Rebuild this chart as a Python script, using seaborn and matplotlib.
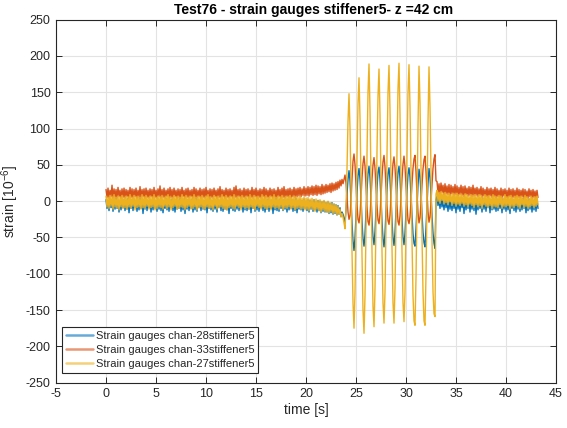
import numpy as np
import pandas as pd
import matplotlib
matplotlib.use('Agg')
import matplotlib.pyplot as plt
import seaborn as sns

# ---- data (strain in 1e-6) ----
names = ['Strain gauges chan-28stiffener5',
         'Strain gauges chan-33stiffener5',
         'Strain gauges chan-27stiffener5']
colors = ['#0072BD', '#D95319', '#EDB120']

# quiet part before excitation, 0.0 .. 23.6 s every 0.1 s
pre_start, pre_step = 0.0, 0.1
blue_pre = [2, -10, 1, -13, 3, -9, 0, -14, 2, -11, 4, -10, 1, -15, 0, -12, 3, -9, 2, -13,
            1, -11, 4, -16, 0, -10, 2, -13, 3, -9, 1, -14, 0, -12, 4, -10, 2, -17, 1, -11,
            3, -13, 0, -9, 2, -15, 1, -12, 4, -10, 0, -14, 3, -11, 1, -13, 2, -16, 0, -10,
            4, -12, 1, -14, 2, -9, 3, -13, 0, -15, 2, -11, 1, -10, 4, -14, 0, -12, 3, -17,
            1, -11, 2, -13, 0, -10, 3, -15, 1, -12, 4, -14, 2, -9, 0, -13, 3, -11, 1, -12,
            2, -16, 0, -10, 4, -12, 1, -14, 3, -11, 0, -15, 2, -9, 1, -13, 4, -14, 0, -11,
            3, -12, 1, -17, 2, -10, 0, -13, 4, -14, 1, -11, 3, -13, 0, -9, 2, -15, 1, -12,
            4, -13, 0, -11, 3, -16, 1, -10, 2, -14, 0, -12, 4, -14, 1, -9, 3, -13, 2, -15,
            0, -11, 3, -14, 1, -10, 2, -17, 0, -12, 4, -13, 1, -14, 3, -10, 0, -13, 2, -11,
            1, -15, 3, -12, 0, -10, 2, -14, 1, -13, 4, -16, 0, -11, 2, -12, 1, -14, 3, -10,
            0, -13, 2, -15, 1, -11, 0, -14, 2, -12, -1, -15, 1, -13, 0, -16, -1, -14, 0, -15,
            -2, -15, -1, -17, -3, -16, -2, -18, -4, -17, -5, -19, -6, -18, -9, -21, -15]
orange_pre = [16, 5, 18, 4, 15, 6, 22, 3, 17, 5, 16, 4, 19, 6, 15, 3, 17, 5, 18, 4,
              16, 6, 15, 3, 19, 5, 17, 4, 16, 6, 18, 3, 15, 5, 20, 4, 16, 6, 17, 3,
              18, 5, 15, 4, 17, 6, 16, 3, 19, 5, 15, 4, 17, 6, 21, 3, 16, 5, 18, 4,
              15, 6, 17, 3, 19, 5, 16, 4, 18, 6, 15, 3, 17, 5, 16, 4, 19, 6, 15, 3,
              17, 5, 18, 4, 15, 6, 16, 3, 19, 5, 17, 4, 15, 6, 18, 3, 16, 5, 17, 4,
              19, 6, 15, 3, 17, 5, 16, 4, 18, 6, 15, 3, 17, 5, 20, 4, 16, 6, 15, 3,
              18, 5, 16, 4, 17, 6, 15, 3, 19, 5, 21, 4, 16, 6, 17, 3, 15, 5, 18, 4,
              16, 6, 17, 3, 15, 5, 19, 4, 16, 6, 18, 3, 15, 5, 17, 4, 16, 6, 19, 3,
              17, 5, 15, 4, 18, 6, 16, 3, 17, 5, 15, 4, 19, 6, 16, 3, 18, 5, 20, 4,
              16, 6, 17, 5, 18, 4, 16, 6, 19, 5, 17, 6, 18, 7, 19, 6, 17, 8, 20, 7,
              18, 8, 20, 7, 19, 9, 21, 8, 20, 9, 22, 8, 21, 10, 20, 9, 23, 10, 21, 11,
              23, 12, 22, 13, 24, 12, 25, 14, 24, 15, 26, 16, 27, 18, 29, 21, 30]
yellow_pre = [7, -8, 5, -10, 8, -7, 6, -11, 9, -8, 5, -9, 7, -12, 6, -8, 8, -10, 5, -9,
              7, -11, 6, -8, 9, -10, 5, -7, 8, -12, 6, -9, 7, -8, 5, -11, 9, -9, 6, -10,
              8, -7, 5, -11, 7, -9, 6, -8, 9, -12, 5, -10, 7, -8, 6, -9, 8, -11, 5, -7,
              7, -10, 9, -8, 6, -12, 5, -9, 8, -7, 6, -11, 7, -10, 5, -8, 9, -9, 6, -12,
              8, -9, 5, -7, 7, -11, 6, -10, 9, -8, 5, -12, 7, -9, 6, -8, 8, -10, 5, -11,
              7, -8, 9, -10, 6, -9, 5, -12, 8, -7, 6, -11, 7, -9, 5, -8, 9, -10, 6, -11,
              8, -12, 5, -9, 7, -8, 6, -10, 9, -11, 5, -7, 7, -9, 6, -12, 8, -8, 5, -10,
              7, -9, 6, -11, 9, -8, 5, -10, 8, -12, 6, -7, 7, -9, 5, -11, 9, -8, 6, -10,
              8, -11, 5, -9, 7, -12, 6, -8, 9, -10, 5, -9, 7, -11, 6, -8, 8, -12, 5, -9,
              7, -10, 6, -8, 8, -11, 5, -9, 7, -12, 6, -10, 5, -9, 7, -11, 4, -10, 6, -12,
              4, -11, 5, -13, 3, -10, 4, -12, 2, -14, 3, -11, 1, -13, 2, -15, 0, -12, 1, -14,
              -1, -15, 0, -16, -2, -14, -3, -17, -4, -16, -5, -19, -7, -18, -11, -22, -17]

# oscillating part, 23.7 .. 33.0 s every 0.1 s
osc_start, osc_step = 23.7, 0.1
blue_osc = [-18, -24, -28, -12, 10, 30, 42, 28, 2, -30, -55, -68, -50, -20, 12, 35, 45, 30, 5, -28,
            -52, -62, -45, -15, 15, 38, 48, 32, 6, -25, -50, -60, -42, -12, 18, 40, 47, 30, 3, -28,
            -52, -63, -44, -14, 16, 38, 46, 29, 4, -27, -51, -61, -43, -13, 17, 40, 48, 31, 5, -26,
            -50, -60, -44, -15, 14, 37, 46, 33, 8, -20, -45, -58, -62, -38, -8, 22, 44, 34, 10, -18,
            -43, -57, -63, -37, -6, 24, 45, 33, 9, -20, -44, -58, -65, 2]
orange_osc = [24, 30, 36, 25, 5, -15, -25, -20, 0, 30, 55, 65, 50, 22, -5, -25, -30, -18, 5, 32,
              52, 62, 48, 20, -8, -28, -33, -20, 4, 30, 50, 60, 45, 18, -6, -26, -31, -18, 6, 33,
              54, 63, 47, 19, -7, -27, -32, -19, 5, 31, 52, 61, 46, 20, -6, -28, -33, -20, 4, 30,
              51, 62, 47, 21, -5, -26, -31, -22, 0, 24, 45, 58, 63, 40, 10, -15, -30, -23, -2, 22,
              44, 57, 62, 40, 12, -14, -29, -22, -1, 23, 45, 58, 64, 28]
yellow_osc = [-22, -30, -38, -10, 45, 110, 148, 100, 20, -70, -140, -175, -125, -35, 60, 135, 170, 115, 25, -75,
              -150, -182, -130, -40, 65, 150, 189, 125, 30, -70, -145, -173, -120, -30, 70, 145, 182, 120, 25, -70,
              -140, -168, -125, -35, 65, 150, 187, 125, 30, -65, -140, -168, -120, -30, 70, 155, 190, 120, 25, -70,
              -140, -166, -125, -35, 65, 150, 188, 130, 40, -55, -130, -165, -171, -105, -5, 105, 186, 135, 45, -50,
              -125, -165, -171, -100, 0, 110, 185, 130, 40, -55, -125, -155, -159, 10]

# quiet part after excitation, 33.1 .. 43.2 s every 0.1 s
post_start, post_step = 33.1, 0.1
blue_post = [7, -6, 4, -10, 6, -8, 3, -12, 5, -9, 2, -14, 4, -11, 1, -13, 3, -10, 2, -16,
             4, -11, 1, -14, 3, -9, 2, -17, 4, -12, 1, -10, 3, -15, 2, -11, 1, -13, 4, -18,
             2, -12, 3, -10, 1, -15, 4, -11, 2, -14, 1, -9, 3, -16, 2, -12, 4, -11, 1, -14,
             3, -13, 2, -10, 1, -16, 3, -11, 4, -14, 2, -12, 1, -17, 3, -10, 2, -13, 1, -15,
             3, -11, 2, -14, 1, -12, 4, -10, 2, -16, 1, -13, 3, -11, 2, -15, 1, -12, 3, -14,
             2, -10]
orange_post = [27, 11, 24, 9, 25, 12, 22, 8, 24, 10, 21, 9, 23, 7, 22, 10, 20, 8, 23, 9,
               21, 7, 19, 9, 22, 8, 20, 6, 21, 9, 18, 7, 20, 8, 19, 6, 22, 7, 18, 8,
               19, 6, 17, 8, 20, 5, 18, 7, 16, 6, 19, 4, 17, 7, 18, 5, 16, 6, 19, 4,
               17, 6, 15, 5, 18, 4, 16, 7, 17, 5, 15, 3, 18, 6, 16, 4, 17, 5, 15, 3,
               18, 5, 16, 4, 15, 6, 17, 3, 16, 5, 14, 4, 17, 6, 15, 3, 16, 5, 14, 4,
               15, 5]
yellow_post = [15, 0, 12, -3, 13, 1, 11, -4, 12, -2, 10, -5, 11, -1, 9, -6, 11, -3, 10, -7,
               11, -4, 9, -6, 10, -3, 8, -7, 10, -5, 9, -8, 7, -4, 9, -6, 8, -9, 9, -5,
               7, -8, 9, -6, 8, -10, 6, -5, 9, -7, 7, -9, 8, -6, 6, -10, 9, -7, 7, -8,
               6, -9, 8, -5, 7, -10, 5, -7, 9, -8, 6, -6, 7, -11, 8, -7, 5, -9, 7, -6,
               8, -8, 6, -10, 7, -5, 5, -9, 8, -7, 6, -10, 4, -8, 7, -6, 5, -9, 6, -7,
               7, -5]


def series(pre, osc, post):
    t = np.concatenate([pre_start + pre_step * np.arange(len(pre)),
                        osc_start + osc_step * np.arange(len(osc)),
                        post_start + post_step * np.arange(len(post))])
    return t, np.array(pre + osc + post, dtype=float)


frames = []
for name, (pre, osc, post) in zip(names, [(blue_pre, blue_osc, blue_post),
                                          (orange_pre, orange_osc, orange_post),
                                          (yellow_pre, yellow_osc, yellow_post)]):
    t, v = series(pre, osc, post)
    frames.append(pd.DataFrame({'time': t, 'strain': v, 'gauge': name}))
df = pd.concat(frames, ignore_index=True)

sns.set_theme(style='whitegrid')
plt.rcParams['font.family'] = ['Liberation Sans', 'DejaVu Sans']
plt.rcParams['axes.unicode_minus'] = False
plt.rcParams['mathtext.fontset'] = 'custom'
plt.rcParams['mathtext.rm'] = 'Liberation Sans'
plt.rcParams['mathtext.it'] = 'Liberation Sans'
plt.rcParams['path.simplify'] = False   # keep every wiggle of the noisy signal

fig = plt.figure(figsize=(5.67, 4.28), dpi=100)
ax = fig.add_axes([0.0988, 0.106, 0.8818, 0.848])

sns.lineplot(data=df, x='time', y='strain', hue='gauge', hue_order=names,
             palette=colors, estimator=None, sort=False, linewidth=1.0, ax=ax)

ax.set_xlim(-5, 45)
ax.set_ylim(-250, 250)
ax.set_xticks(np.arange(-5, 46, 5))
ax.set_yticks(np.arange(-250, 251, 50))
ax.grid(True, color='#e3e3e3', linewidth=0.8)
ax.set_facecolor('white')
for s in ax.spines.values():
    s.set_visible(True)
    s.set_color('#262626')
    s.set_linewidth(0.8)
ax.tick_params(direction='in', length=4, width=0.7, colors='#262626',
               labelsize=9, top=True, right=True, bottom=True, left=True,
               labeltop=False, labelright=False, pad=4)

ax.set_xlabel('time [s]', fontsize=10, color='#262626', labelpad=2)
ax.set_ylabel('strain [10$^{-6}$]', fontsize=10, color='#262626', labelpad=3)
ax.set_title('Test76 - strain gauges stiffener5- z =42 cm', fontsize=10,
             fontweight='bold', color='#000000', pad=4, x=0.515)

handles, labels = ax.get_legend_handles_labels()
leg = ax.legend(handles, labels, loc='lower left', bbox_to_anchor=(0.012, 0.027),
                borderaxespad=0, fontsize=8, frameon=True, fancybox=False,
                handlelength=2.4, handletextpad=0.3, labelspacing=0.35,
                borderpad=0.35)
leg.get_frame().set_edgecolor('#262626')
leg.get_frame().set_linewidth(0.8)
leg.get_frame().set_alpha(1)
for line in leg.get_lines():
    line.set_alpha(0.6)
    line.set_linewidth(1.8)

fig.savefig('out.png', dpi=100)
